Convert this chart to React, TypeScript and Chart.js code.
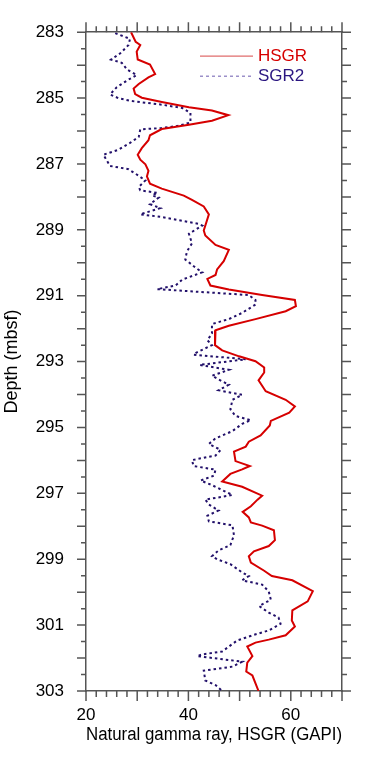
import React, { useEffect, useRef } from 'react';
import { Chart, registerables } from 'chart.js';

Chart.register(...registerables);

const FONT = "'Liberation Sans', Arial, Helvetica, sans-serif";
const AXIS_COLOR = '#555555';

// Series names and colours
const seriesNames = ['HSGR', 'SGR2'];
const lineColors = ['#d60000', '#22106a'];
const legendTextColors = ['#d60000', '#2a1580'];

// HSGR (red solid)
const hsgrDepth = [
  283.0, 283.29, 283.39, 283.59, 283.83, 283.98, 284.27, 284.37, 284.57, 284.71,
  284.88, 284.99, 285.12, 285.28, 285.38, 285.52, 285.69, 285.81, 285.94, 286.13,
  286.28, 286.52, 286.72, 286.87, 287.01, 287.21, 287.38, 287.6, 287.75, 287.96,
  288.09, 288.29, 288.53, 289.02, 289.17, 289.46, 289.61, 289.95, 290.2, 290.37,
  290.49, 290.69, 290.81, 290.98, 291.13, 291.32, 291.47, 291.71, 291.91, 292.05,
  292.5, 292.66, 292.84, 292.99, 293.18, 293.33, 293.57, 293.9, 294.16, 294.36,
  294.55, 294.8, 294.94, 295.24, 295.43, 295.58, 295.73, 296.02, 296.17, 296.27,
  296.41, 296.64, 296.8, 297.07, 297.19, 297.39, 297.56, 297.73, 297.88, 297.98,
  298.12, 298.42, 298.6, 298.76, 298.91, 299.1, 299.35, 299.51, 299.64, 299.97,
  300.28, 300.55, 300.86, 301.04, 301.31, 301.44, 301.53, 301.65, 301.94, 302.14,
  302.41, 302.53, 303.0,
];
const hsgrValue = [
  28.8, 29.7, 30.6, 29.9, 30.1, 32.5, 33.5, 32.2, 30.3, 29.3,
  29.6, 30.9, 34.8, 40.1, 44.6, 47.8, 44.6, 40.1, 34.8, 32.5,
  32.2, 30.9, 30.1, 30.6, 31.6, 32.2, 31.9, 32.5, 34.8, 39.1,
  40.7, 43.0, 44.0, 43.0, 43.3, 45.3, 47.9, 46.9, 45.6, 45.3,
  43.7, 44.3, 47.9, 54.4, 60.8, 61.0, 59.0, 53.1, 47.9, 45.3,
  45.2, 46.6, 49.9, 53.1, 54.8, 54.8, 53.7, 55.1, 59.0, 60.8,
  59.7, 56.1, 55.9, 54.1, 51.8, 51.2, 48.9, 49.2, 52.0, 50.5,
  48.2, 46.6, 50.5, 54.4, 53.5, 52.2, 50.6, 51.8, 52.2, 54.4,
  56.7, 56.9, 55.7, 52.8, 51.8, 52.2, 54.8, 56.3, 60.3, 64.3,
  63.3, 60.3, 60.2, 60.8, 59.0, 55.7, 53.1, 51.5, 52.5, 51.5,
  51.3, 52.5, 53.7,
];

// SGR2 (dark blue dotted)
const sgr2Depth = [
  283.03, 283.2, 283.39, 283.64, 283.83, 283.93, 284.13, 284.3, 284.44, 284.67,
  284.89, 285.0, 285.09, 285.2, 285.3, 285.45, 285.74, 285.84, 285.91, 285.95,
  286.18, 286.36, 286.57, 286.72, 287.06, 287.16, 287.36, 287.5, 287.7, 287.8,
  287.88, 287.95, 288.02, 288.22, 288.34, 288.53, 288.61, 288.82, 288.87, 289.12,
  289.41, 289.66, 289.9, 290.15, 290.29, 290.51, 290.69, 290.8, 290.98, 291.13,
  291.27, 291.52, 291.71, 291.86, 292.15, 292.35, 292.5, 292.74, 292.79, 292.93,
  293.1, 293.25, 293.43, 293.6, 293.7, 293.87, 294.01, 294.16, 294.45, 294.65,
  294.78, 294.89, 295.11, 295.33, 295.5, 295.68, 295.85, 295.99, 296.17, 296.28,
  296.46, 296.61, 296.75, 297.05, 297.19, 297.34, 297.52, 297.68, 297.85, 297.97,
  298.27, 298.57, 298.73, 298.91, 299.0, 299.15, 299.4, 299.51, 299.64, 299.77,
  299.98, 300.23, 300.42, 300.62, 300.77, 300.96, 301.16, 301.31, 301.47, 301.8,
  301.89, 301.94, 302.11, 302.26, 302.38, 302.68, 302.82, 303.0,
];
const sgr2Value = [
  25.7, 28.6, 28.3, 26.7, 24.9, 27.0, 28.0, 29.9, 28.3, 26.0,
  24.7, 26.3, 28.9, 34.8, 38.8, 40.4, 40.4, 38.1, 34.8, 30.6,
  30.3, 28.6, 26.3, 23.4, 24.7, 28.3, 30.3, 31.6, 30.3, 30.6,
  34.0, 32.9, 34.2, 32.5, 34.5, 30.6, 34.8, 42.0, 42.7, 40.1,
  40.7, 39.7, 39.4, 41.4, 42.7, 38.8, 37.5, 33.9, 51.8, 53.1,
  53.1, 50.5, 47.9, 44.6, 44.6, 43.7, 44.6, 41.4, 41.0, 51.2,
  42.2, 47.9, 44.6, 46.6, 47.9, 45.9, 50.5, 48.6, 48.2, 49.2,
  52.2, 50.5, 48.6, 45.3, 44.0, 46.3, 45.3, 40.7, 41.0, 45.3,
  45.0, 42.4, 44.6, 48.6, 43.3, 44.0, 45.9, 43.7, 44.0, 48.6,
  48.9, 48.2, 45.9, 44.6, 45.6, 48.2, 50.5, 51.8, 50.5, 54.4,
  55.7, 56.1, 53.8, 55.7, 57.6, 58.0, 55.7, 52.5, 49.5, 46.6,
  42.7, 41.7, 50.5, 48.6, 43.0, 43.3, 45.3, 46.6,
];

// Axes
const X_MIN = 20;
const X_MAX = 70;
const Y_MIN = 283;
const Y_MAX = 303;
const xTickLabels = [20, 40, 60];
const yTickLabels = [283, 285, 287, 289, 291, 293, 295, 297, 299, 301, 303];
const X_MAJOR_STEP = 10;
const X_MINOR_STEP = 2;
const Y_MAJOR_STEP = 1;
const Y_MINOR_STEP = 0.5;
const xTitle = 'Natural gamma ray, HSGR (GAPI)';
const yTitle = 'Depth (mbsf)';

const isMultiple = (v: number, step: number) =>
  Math.abs(v / step - Math.round(v / step)) < 1e-6;

const tickMarksPlugin = {
  id: 'tickMarks',
  afterDraw(chart: any) {
    const { ctx, chartArea, scales } = chart;
    const { left, right, top, bottom } = chartArea;
    const xs = scales.x;
    const ys = scales.y;
    ctx.save();
    ctx.strokeStyle = AXIS_COLOR;
    ctx.lineWidth = 1.5;
    ctx.beginPath();
    const nx = Math.round((X_MAX - X_MIN) / X_MINOR_STEP);
    for (let i = 0; i <= nx; i++) {
      const v = X_MIN + i * X_MINOR_STEP;
      const px = xs.getPixelForValue(v);
      const len = isMultiple(v, X_MAJOR_STEP) ? 10 : 6;
      ctx.moveTo(px, bottom);
      ctx.lineTo(px, bottom + len);
      ctx.moveTo(px, top);
      ctx.lineTo(px, top - len);
    }
    const ny = Math.round((Y_MAX - Y_MIN) / Y_MINOR_STEP);
    for (let i = 0; i <= ny; i++) {
      const v = Y_MIN + i * Y_MINOR_STEP;
      const py = ys.getPixelForValue(v);
      const len = isMultiple(v, Y_MAJOR_STEP) ? 9 : 5;
      ctx.moveTo(left, py);
      ctx.lineTo(left - len, py);
      ctx.moveTo(right, py);
      ctx.lineTo(right + len, py);
    }
    ctx.stroke();
    ctx.restore();
  },
};

const legendPlugin = {
  id: 'innerLegend',
  afterDraw(chart: any) {
    const { ctx, chartArea } = chart;
    const { right, top } = chartArea;
    const x0 = right - 142;
    const x1 = right - 89;
    const tx = right - 84;
    const rows = [top + 24, top + 44];
    ctx.save();
    ctx.font = `17px ${FONT}`;
    ctx.textBaseline = 'middle';
    ctx.textAlign = 'left';
    seriesNames.forEach((name, i) => {
      const y = rows[i];
      ctx.beginPath();
      ctx.lineWidth = 1.2;
      if (i === 0) {
        ctx.strokeStyle = 'rgba(214,60,60,0.75)';
        ctx.setLineDash([]);
      } else {
        ctx.strokeStyle = 'rgba(80,60,160,0.7)';
        ctx.setLineDash([3, 3]);
      }
      ctx.moveTo(x0, y);
      ctx.lineTo(x1, y);
      ctx.stroke();
      ctx.setLineDash([]);
      ctx.fillStyle = legendTextColors[i];
      ctx.fillText(name, tx, y);
    });
    ctx.restore();
  },
};

export default function App() {
  const ref = useRef<HTMLCanvasElement>(null);

  useEffect(() => {
    const canvas = ref.current;
    if (!canvas) return;
    const tickFont = { family: FONT, size: 17 };
    const titleFont = { family: FONT, size: 18 };
    const chart = new Chart(canvas, {
      type: 'line',
      data: {
        datasets: [
          {
            label: seriesNames[0],
            data: hsgrDepth.map((d, i) => ({ x: hsgrValue[i], y: d })),
            borderColor: lineColors[0],
            borderWidth: 2,
            pointRadius: 0,
            tension: 0,
            fill: false,
            order: 1,
          },
          {
            label: seriesNames[1],
            data: sgr2Depth.map((d, i) => ({ x: sgr2Value[i], y: d })),
            borderColor: lineColors[1],
            borderWidth: 2,
            borderDash: [2.5, 3],
            pointRadius: 0,
            tension: 0,
            fill: false,
            order: 2,
          },
        ],
      },
      options: {
        animation: false,
        responsive: false,
        devicePixelRatio: 1,
        layout: { padding: 0 },
        plugins: {
          legend: { display: false },
          tooltip: { enabled: false },
        },
        scales: {
          x: {
            type: 'linear',
            position: 'bottom',
            min: X_MIN,
            max: X_MAX,
            afterBuildTicks: (s: any) => {
              s.ticks = xTickLabels.map((v) => ({ value: v }));
            },
            afterFit: (s: any) => {
              s.height = 67;
            },
            grid: { display: false, drawTicks: false },
            border: { display: true, color: AXIS_COLOR, width: 1.5 },
            ticks: {
              padding: 14,
              font: tickFont,
              color: '#000',
              maxRotation: 0,
              autoSkip: false,
            },
            title: {
              display: true,
              text: xTitle,
              font: titleFont,
              color: '#000',
              padding: { top: 0, bottom: 12 },
            },
          },
          x2: {
            type: 'linear',
            position: 'top',
            axis: 'x',
            min: X_MIN,
            max: X_MAX,
            afterFit: (s: any) => {
              s.height = 10;
            },
            grid: { display: false, drawTicks: false },
            border: { display: true, color: AXIS_COLOR, width: 1.5 },
            ticks: { display: false },
          },
          y: {
            type: 'linear',
            position: 'left',
            reverse: true,
            min: Y_MIN,
            max: Y_MAX,
            afterBuildTicks: (s: any) => {
              s.ticks = yTickLabels.map((v) => ({ value: v }));
            },
            afterFit: (s: any) => {
              s.width = 86;
            },
            grid: { display: false, drawTicks: false },
            border: { display: true, color: AXIS_COLOR, width: 1.5 },
            ticks: {
              padding: 22,
              font: tickFont,
              color: '#000',
              autoSkip: false,
            },
            title: {
              display: true,
              text: yTitle,
              font: titleFont,
              color: '#000',
              padding: { top: 1, bottom: 0 },
            },
          },
          y2: {
            type: 'linear',
            position: 'right',
            axis: 'y',
            reverse: true,
            min: Y_MIN,
            max: Y_MAX,
            afterFit: (s: any) => {
              s.width = 27;
            },
            grid: { display: false, drawTicks: false },
            border: { display: true, color: AXIS_COLOR, width: 1.5 },
            ticks: { display: false },
          },
        },
      },
      plugins: [tickMarksPlugin, legendPlugin],
    } as any);
    return () => chart.destroy();
  }, []);

  return (
    <div
      style={{
        position: 'absolute',
        left: 0,
        top: 0,
        width: 369,
        height: 758,
        background: '#ffffff',
      }}
    >
      <canvas
        ref={ref}
        width={369}
        height={758}
        style={{ display: 'block', width: 369, height: 758 }}
      />
    </div>
  );
}
